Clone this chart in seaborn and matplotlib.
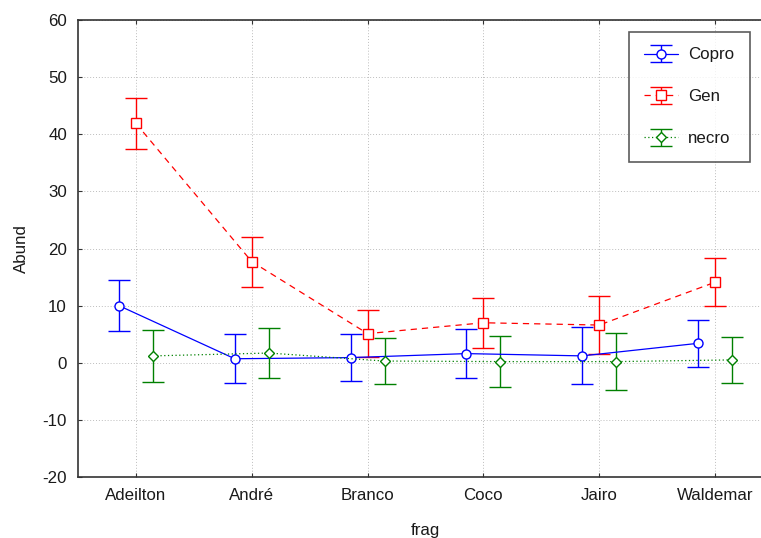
import matplotlib
matplotlib.use("Agg")
import matplotlib.pyplot as plt
import pandas as pd
import seaborn as sns
from matplotlib.legend_handler import HandlerTuple

frags = ["Adeilton", "André", "Branco", "Coco", "Jairo", "Waldemar"]
series_names = ["Copro", "Gen", "necro"]

copro_mean = [10.0, 0.7, 0.9, 1.6, 1.2, 3.4]
copro_err = [4.5, 4.3, 4.1, 4.3, 5.0, 4.1]
gen_mean = [41.9, 17.7, 5.1, 7.0, 6.6, 14.1]
gen_err = [4.5, 4.4, 4.1, 4.4, 5.1, 4.2]
necro_mean = [1.2, 1.7, 0.3, 0.2, 0.2, 0.5]
necro_err = [4.5, 4.4, 4.1, 4.4, 5.0, 4.0]

means = {"Copro": copro_mean, "Gen": gen_mean, "necro": necro_mean}
errs = {"Copro": copro_err, "Gen": gen_err, "necro": necro_err}

# drawing styles
colors = {"Copro": "#0000ff", "Gen": "#ff0000", "necro": "#008000"}
markers = {"Copro": "o", "Gen": "s", "necro": "D"}
marker_sizes = {"Copro": 6.5, "Gen": 7, "necro": 5.5}
dashes = {"Copro": "", "Gen": (5, 4), "necro": (1, 2)}
offsets = {"Copro": -0.147, "Gen": 0.0, "necro": 0.147}

rows = []
for name in series_names:
    for i, frag in enumerate(frags):
        rows.append({"frag": frag, "series": name, "xpos": i + offsets[name],
                     "abund": means[name][i], "err": errs[name][i]})
df = pd.DataFrame(rows)

sns.set_theme(style="ticks")
plt.rcParams["font.family"] = ["Liberation Sans", "DejaVu Sans"]
plt.rcParams["axes.unicode_minus"] = False
text_color = "#1a1a1a"
fs = 12.2

fig = plt.figure(figsize=(7.61, 5.38), dpi=100)
ax = fig.add_axes([0.1025, 0.1134, 0.9133, 0.8494])

sns.lineplot(data=df, x="xpos", y="abund", hue="series", style="series",
             hue_order=series_names, style_order=series_names,
             palette=colors, markers=markers, dashes=dashes,
             linewidth=0.9, legend=False, ax=ax)

line_handles = list(ax.lines[:3])
for name, line in zip(series_names, line_handles):
    line.set_markeredgecolor(colors[name])
    line.set_markerfacecolor("white")
    line.set_markeredgewidth(1.0)
    line.set_markersize(marker_sizes[name])
    line.set_zorder(4)

err_handles = []
for name in series_names:
    sub = df[df["series"] == name]
    eb = ax.errorbar(sub["xpos"], sub["abund"], yerr=sub["err"], fmt="none",
                     ecolor=colors[name], elinewidth=1.0, capsize=8,
                     capthick=1.0, zorder=3)
    err_handles.append(eb)

ax.set_xlim(-0.5, 5.5)
ax.set_ylim(-20, 60)
ax.set_yticks(range(-20, 61, 10))
ax.set_xticks(range(len(frags)), labels=frags)
ax.grid(True, linestyle=(0, (1, 2)), color="#bdbdbd", linewidth=0.7)
ax.set_axisbelow(True)

for side in ["left", "bottom", "top"]:
    ax.spines[side].set_visible(True)
    ax.spines[side].set_color("#333333")
    ax.spines[side].set_linewidth(1.2)
ax.spines["right"].set_visible(False)

ax.tick_params(axis="both", direction="in", length=3, width=0.8,
               colors="#333333", labelcolor=text_color, labelsize=fs, pad=8,
               top=True)
ax.set_xlabel("frag", fontsize=fs, color=text_color, labelpad=14)
ax.set_ylabel("Abund", fontsize=fs, color=text_color, labelpad=10)

handles = [(e, l) for e, l in zip(err_handles, line_handles)]
leg = ax.legend(handles, series_names, handler_map={tuple: HandlerTuple(ndivide=1)},
                loc="upper right", bbox_to_anchor=(0.967, 0.974),
                fontsize=fs, frameon=True, fancybox=False, edgecolor="#333333",
                labelspacing=1.58, handlelength=2.0, borderpad=0.92,
                handletextpad=0.6, borderaxespad=0.0, numpoints=1)
leg.get_frame().set_linewidth(1.2)
for t in leg.get_texts():
    t.set_color(text_color)

fig.savefig("out.png", dpi=100)
